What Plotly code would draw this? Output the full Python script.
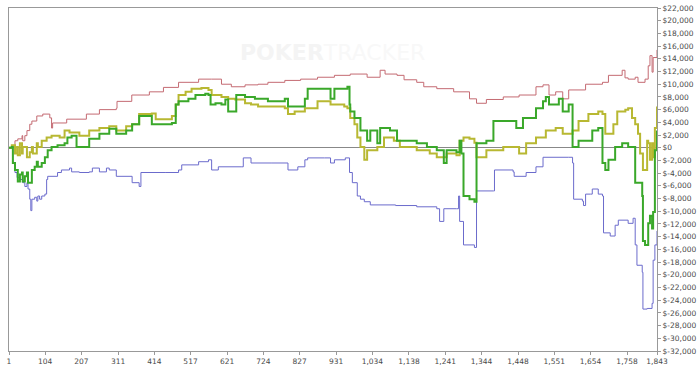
import plotly.graph_objects as go

# ---- data (hand number, cumulative $) ----
red_x = [1, 9, 18, 26, 38, 40, 46, 52, 60, 66, 80, 97, 117, 122, 125, 165, 221, 258, 306, 308, 350, 400, 440, 483, 540, 577, 605, 633, 672, 709, 737, 785, 830, 878, 926, 971, 1019, 1056, 1070, 1104, 1124, 1160, 1180, 1217, 1265, 1310, 1330, 1358, 1406, 1451, 1499, 1519, 1536, 1555, 1575, 1592, 1640, 1688, 1705, 1744, 1752, 1761, 1781, 1789, 1809, 1818, 1823, 1829, 1832, 1843]
red_y = [0, 300, 1100, 1400, 1900, 1100, 1900, 2700, 3700, 4200, 5000, 5300, 4700, 3100, 3900, 4500, 5300, 6000, 6200, 7300, 8300, 8800, 9500, 10300, 10800, 10800, 10000, 9600, 9900, 10000, 10300, 10600, 10800, 11100, 11400, 11600, 11100, 12200, 11600, 11400, 10700, 10300, 9600, 9300, 8800, 7700, 7000, 7600, 8000, 8300, 9600, 9900, 8300, 8800, 7700, 9100, 10000, 10300, 11400, 12200, 11000, 10800, 11100, 10300, 10800, 12900, 14500, 11900, 14200, 15400]

olive_x = [1, 9, 18, 24, 26, 32, 38, 40, 52, 60, 66, 69, 80, 83, 94, 108, 122, 145, 159, 173, 201, 229, 258, 286, 306, 334, 351, 371, 407, 418, 464, 475, 483, 503, 520, 548, 568, 577, 605, 624, 644, 672, 689, 709, 737, 785, 794, 813, 842, 878, 915, 954, 963, 971, 983, 991, 1000, 1011, 1019, 1048, 1067, 1095, 1112, 1160, 1197, 1217, 1245, 1273, 1282, 1293, 1310, 1324, 1330, 1358, 1406, 1451, 1471, 1499, 1527, 1555, 1575, 1603, 1620, 1648, 1676, 1688, 1696, 1719, 1730, 1753, 1761, 1772, 1781, 1789, 1795, 1803, 1815, 1818, 1823, 1829, 1832, 1837, 1843]
olive_y = [0, 400, -900, 100, -1200, 700, -900, 100, -1500, -700, 100, -900, 700, 100, 1100, 1600, 1900, 1600, 2700, 2400, 1900, 2700, 3100, 3400, 2700, 3400, 3700, 5300, 5400, 4500, 5000, 6800, 8300, 8800, 9300, 9400, 9100, 8300, 8000, 7700, 7600, 7000, 6800, 6500, 6500, 6200, 5300, 5700, 6200, 7300, 6800, 6500, 6200, 4700, 3700, 1600, 100, -1900, -400, 100, 1600, 1100, 100, -400, -900, -1500, -900, -1200, 1100, 1600, 1400, 800, -1500, -400, 100, -900, 700, 1600, 2700, 3100, 2200, 2700, 4200, 5300, 5700, 5300, 2200, 3700, 5700, 6000, 6200, 4700, 3700, 2200, -900, -3500, 1100, 700, -1900, 700, -1500, 3100, 6500]

green_x = [1, 9, 12, 18, 26, 32, 38, 40, 46, 52, 55, 66, 74, 80, 83, 94, 103, 111, 122, 139, 159, 167, 179, 193, 210, 229, 258, 286, 306, 334, 351, 371, 407, 464, 475, 483, 511, 531, 559, 568, 574, 588, 605, 616, 624, 644, 647, 672, 700, 737, 785, 794, 842, 850, 898, 915, 926, 963, 969, 971, 983, 1000, 1019, 1028, 1048, 1056, 1084, 1104, 1132, 1160, 1189, 1217, 1237, 1245, 1273, 1282, 1287, 1293, 1310, 1324, 1330, 1358, 1378, 1406, 1443, 1462, 1499, 1519, 1527, 1536, 1564, 1575, 1592, 1603, 1620, 1659, 1676, 1688, 1696, 1705, 1724, 1744, 1761, 1781, 1801, 1803, 1809, 1818, 1823, 1829, 1832, 1837, 1843]
green_y = [0, 100, -2400, -3500, -5300, -4200, -3900, -5300, -4500, -3900, -5500, -3500, -3000, -2200, -3000, -2400, -1500, -400, 100, 400, 700, 1600, 1900, 100, 100, 1400, 2200, 3000, 2200, 2700, 3700, 5000, 3700, 3900, 6800, 7300, 7700, 8300, 8500, 8300, 6800, 7000, 6800, 7600, 5700, 5700, 8300, 8000, 7700, 7300, 7700, 6500, 7700, 9300, 9300, 7700, 9300, 9600, 6800, 5700, 4700, 2700, 1100, 2700, 700, 3100, 2700, 1100, 1100, 700, 100, -400, -2400, -400, -700, 1100, -900, -7600, -8100, -8500, 700, 1100, 4200, 4200, 3100, 4700, 6200, 7300, 8000, 6800, 7700, 5700, 6800, 100, 1100, 2700, 3100, -2400, -3500, -1900, 100, 700, 100, -5500, -7600, -14700, -15300, -11900, -10700, -12700, -10100, -400, 2700]

blue_x = [1, 9, 12, 18, 24, 32, 40, 46, 52, 55, 60, 63, 66, 74, 80, 83, 88, 94, 103, 108, 111, 139, 150, 173, 179, 201, 229, 238, 258, 278, 286, 306, 351, 371, 376, 447, 483, 492, 540, 568, 577, 596, 661, 667, 689, 746, 794, 822, 842, 850, 898, 915, 926, 957, 969, 977, 991, 1000, 1011, 1028, 1100, 1160, 1217, 1225, 1237, 1273, 1279, 1282, 1293, 1324, 1330, 1378, 1381, 1434, 1437, 1471, 1499, 1519, 1592, 1603, 1606, 1631, 1634, 1640, 1654, 1659, 1676, 1688, 1691, 1710, 1724, 1733, 1761, 1775, 1781, 1786, 1801, 1803, 1815, 1829, 1832, 1837, 1843]
blue_y = [0, 0, -2400, -3900, -4700, -5000, -5500, -6100, -5500, -6500, -8100, -9900, -8100, -7800, -8400, -7600, -8100, -7600, -7300, -5000, -4500, -3900, -3500, -3200, -3800, -3900, -3800, -3200, -3800, -3200, -3500, -4500, -5500, -6100, -3900, -3900, -3500, -2700, -2200, -1900, -3500, -3000, -3000, -1600, -2400, -2400, -3500, -3000, -1900, -1600, -1600, -2400, -1900, -1600, -3900, -5500, -7600, -8100, -8500, -9000, -9100, -9300, -9600, -11600, -9600, -9600, -7600, -11600, -15300, -15700, -6800, -6800, -3500, -3800, -4500, -3900, -3000, -1500, -1500, -2400, -8100, -8400, -9100, -7300, -7300, -6500, -7300, -7600, -13400, -13900, -12200, -11400, -11900, -11100, -15300, -18500, -19600, -25400, -25300, -24500, -17700, -15300, -13100]

x_ticks = [1, 104, 207, 311, 414, 517, 621, 724, 827, 931, 1034, 1138, 1241, 1344, 1448, 1551, 1654, 1758, 1843]
x_tick_labels = [f"{v:,}" for v in x_ticks]
y_ticks = list(range(-32000, 22001, 2000))
y_tick_labels = [("$-" if v < 0 else "$") + f"{abs(v):,}" for v in y_ticks]

fig = go.Figure()
series = [
    (red_x, red_y, "#c46a72", 1),
    (blue_x, blue_y, "#6b6bcc", 1),
    (olive_x, olive_y, "#b8b832", 2),
    (green_x, green_y, "#3aa82a", 2),
]
for xs, ys, col, w in series:
    fig.add_trace(go.Scatter(x=xs, y=ys, mode="lines",
                             line=dict(color=col, width=w, shape="hv"),
                             hoverinfo="skip", showlegend=False))

fig.add_annotation(xref="paper", yref="paper", x=0.499, y=0.912,
                   text="<b>POKER</b><span style='color:#f8f8f8'>TRACKER</span>",
                   showarrow=False,
                   font=dict(family="DejaVu Sans", size=22, color="#f4f4f4"))

fig.update_layout(
    width=700, height=370,
    margin=dict(l=9, r=38, t=4, b=14),
    paper_bgcolor="white", plot_bgcolor="white",
    font=dict(family="DejaVu Sans", size=7.5, color="#4a4a4a"),
    xaxis=dict(range=[1, 1843], tickmode="array", tickvals=x_ticks,
               ticktext=x_tick_labels, showgrid=False, zeroline=False,
               showline=True, mirror=True, linecolor="#999", linewidth=1,
               ticks="outside", ticklen=3, tickcolor="#999"),
    yaxis=dict(range=[-32000, 22000], side="right", tickmode="array",
               tickvals=y_ticks, ticktext=y_tick_labels, showgrid=False,
               zeroline=True, zerolinecolor="#888", zerolinewidth=1,
               showline=True, mirror=True, linecolor="#999", linewidth=1,
               ticks="outside", ticklen=3, tickcolor="#999"),
)

fig.write_html("out.html", config={"displayModeBar": False},
               post_script="document.body.style.margin='0';document.body.style.overflow='hidden';")
